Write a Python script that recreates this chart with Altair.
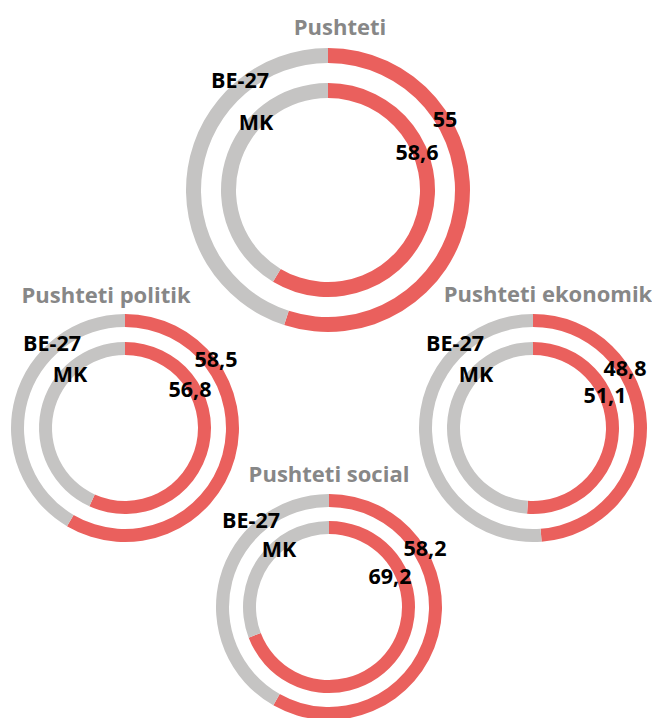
import math
import altair as alt
import pandas as pd

# ---- data ----
panels = ["Pushteti", "Pushteti politik", "Pushteti ekonomik", "Pushteti social"]
be27 = [55.0, 58.5, 48.8, 58.2]   # outer ring
mk = [58.6, 56.8, 51.1, 69.2]     # inner ring
value_labels_be27 = ["55", "58,5", "48,8", "58,2"]
value_labels_mk = ["58,6", "56,8", "51,1", "69,2"]
series_names = ["BE-27", "MK"]

# ---- layout (pixels inside the chart) ----
OFF = 8
centers = [(328, 190), (125, 428), (533, 428), (329, 607)]
outer_r = [(127, 142), (101, 114), (101, 114), (100, 113)]
inner_r = [(92, 107), (73, 86), (73, 86), (73, 86)]
title_pos = [(340, 35), (106, 303), (548, 302), (329, 482)]
be_pos = [(240, 88), (52, 351), (455, 351), (251, 528)]
mk_pos = [(256, 130), (70, 382), (476, 382), (279, 557)]
vbe_pos = [(445, 127), (216, 367), (625, 376), (425, 556)]
vmk_pos = [(417, 160), (190, 397), (605, 403), (390, 584)]

RED = "#EA605D"
GREY = "#C5C4C3"

rows = []
for i, p in enumerate(panels):
    cx, cy = centers[i]
    for ring, val, (r1, r2) in (("BE-27", be27[i], outer_r[i]), ("MK", mk[i], inner_r[i])):
        rows.append(dict(panel=p, ring=ring, seg="share", start=0.0, end=val,
                         cx=cx - OFF, cy=cy - OFF, r_in=r1, r_out=r2))
        rows.append(dict(panel=p, ring=ring, seg="rest", start=val, end=100.0,
                         cx=cx - OFF, cy=cy - OFF, r_in=r1, r_out=r2))
arcs = pd.DataFrame(rows)

trows = []
for i, p in enumerate(panels):
    trows.append(dict(t=p, x=title_pos[i][0] - OFF, y=title_pos[i][1] - OFF, kind="title"))
    trows.append(dict(t=series_names[0], x=be_pos[i][0] - OFF, y=be_pos[i][1] - OFF, kind="lab"))
    trows.append(dict(t=series_names[1], x=mk_pos[i][0] - OFF, y=mk_pos[i][1] - OFF, kind="lab"))
    trows.append(dict(t=value_labels_be27[i], x=vbe_pos[i][0] - OFF, y=vbe_pos[i][1] - OFF, kind="lab"))
    trows.append(dict(t=value_labels_mk[i], x=vmk_pos[i][0] - OFF, y=vmk_pos[i][1] - OFF, kind="lab"))
texts = pd.DataFrame(trows)

W, H = 644, 710
xs = alt.Scale(domain=[0, W], range=[0, W], nice=False, zero=False)
ys = alt.Scale(domain=[0, H], range=[0, H], nice=False, zero=False)

arc = alt.Chart(arcs).mark_arc().encode(
    x=alt.X("cx:Q", scale=xs, axis=None),
    y=alt.Y("cy:Q", scale=ys, axis=None),
    theta=alt.Theta("start:Q", scale=alt.Scale(domain=[0, 100], range=[0, 2 * math.pi]), stack=None),
    theta2="end:Q",
    radius=alt.Radius("r_in:Q", scale=alt.Scale(type="linear", domain=[0, 200], range=[0, 200], zero=True)),
    radius2="r_out:Q",
    color=alt.Color("seg:N", scale=alt.Scale(domain=["share", "rest"], range=[RED, GREY]), legend=None),
)

titles = alt.Chart(texts).transform_filter(alt.datum.kind == "title").mark_text(
    font="Open Sans", fontWeight="bold", fontSize=22, color="#878787", align="center", baseline="alphabetic"
).encode(x=alt.X("x:Q", scale=xs, axis=None), y=alt.Y("y:Q", scale=ys, axis=None), text="t:N")

labels = alt.Chart(texts).transform_filter(alt.datum.kind == "lab").mark_text(
    font="Open Sans", fontWeight="bold", fontSize=21.5, color="#000000", align="center", baseline="alphabetic"
).encode(x=alt.X("x:Q", scale=xs, axis=None), y=alt.Y("y:Q", scale=ys, axis=None), text="t:N")

chart = alt.layer(arc, titles, labels).properties(
    width=W, height=H, padding=0, background="white",
    autosize=alt.AutoSizeParams(type="none")
).configure_view(stroke="transparent", strokeWidth=0)

chart.save("out.html", embed_options={"renderer": "svg", "actions": False})
